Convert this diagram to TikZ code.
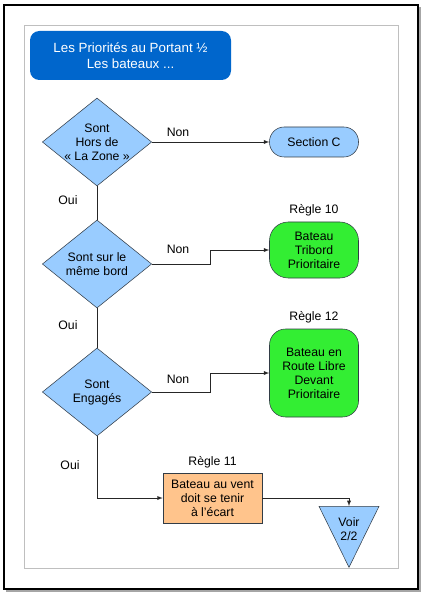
\documentclass[tikz,border=0pt]{standalone}
\usepackage{fontspec}
\setmainfont{Liberation Sans}
\usetikzlibrary{shapes.geometric, positioning, calc}

\definecolor{boxblue}{RGB}{153,204,255}
\definecolor{titleblue}{RGB}{0,102,204}
\definecolor{rulegreen}{RGB}{51,238,51}
\definecolor{ruleorange}{RGB}{255,196,140}
\definecolor{edgegray}{RGB}{50,60,70}

\begin{document}
\begin{tikzpicture}[x=0.75pt, y=-0.75pt, >=latex,
  font=\fontsize{9.2}{10.5}\selectfont,
  test/.style={diamond, aspect=1.24, draw=edgegray, fill=boxblue, align=center,
    inner sep=-4pt, minimum width=82pt, minimum height=66pt},
  rule/.style={draw=edgegray, fill=rulegreen, align=center, inner sep=0pt,
    minimum width=66.75pt},
  answer/.style={inner sep=1pt},
  line/.style={draw=black!85}]
  \useasboundingbox (0,0) rectangle (426,598);

  % page frame
  \fill[black!35] (6,7) rectangle (421,592);
  \draw[line width=1.4pt, fill=white] (4,5) rectangle (418,589);
  \draw[black!25] (24,25) rectangle (398,568);

  \node[fill=titleblue, rounded corners=7pt, text=white, align=center,
  minimum width=150.75pt, minimum height=36.75pt,
  font=\fontsize{10}{12}\selectfont] (title) at (130.5,55.5)
  {Les Priorités au Portant ½\\Les bateaux ...};

  \node[test] (d1) at (97,142) {Sont\\Hors de\\« La Zone »};
  \node[test] (d2) at (97,264) {Sont sur le\\même bord};
  \node[test] (d3) at (97,392) {Sont\\Engagés};

  \node[draw=edgegray, fill=boxblue, rounded corners=11pt,
  minimum width=66.75pt, minimum height=22.5pt] (secC) at (314,142) {Section C};

  \node[rule, rounded corners=14pt, minimum height=42pt] (r10) at (314,250)
  {Bateau\\Tribord\\Prioritaire};
  \node[rule, rounded corners=12pt, minimum height=66pt] (r12) at (314,373)
  {Bateau en\\Route Libre\\Devant\\Prioritaire};
  \node[draw=edgegray, fill=ruleorange, align=center, inner sep=0pt,
  minimum width=74.25pt, minimum height=37.5pt] (r11) at (212.5,498)
  {Bateau au vent\\doit se tenir\\à l'écart};

  \node[isosceles triangle, shape border rotate=270, isosceles triangle stretches,
  draw=edgegray, fill=boxblue, inner sep=0pt,
  minimum width=45pt, minimum height=45.75pt, anchor=apex] (next) at (349,568)
  {\raisebox{-5pt}[\height][\depth]{\begin{tabular}{@{}c@{}}Voir\\2/2\end{tabular}}};

  \node[above=1pt of r10] {Règle 10};
  \node[above=1pt of r12] {Règle 12};
  \node[above=0pt of r11] {Règle 11};

  % connectors
  \draw[line, ->] (d1.east) -- (secC.west);
  \draw[line, ->] (d2.east) -| ($(d2.east)!.5!(r10.west)$) |- (r10.west);
  \draw[line, ->] (d3.east) -| ($(d3.east)!.5!(r12.west)$) |- (r12.west);
  \draw[line] (d1.south) -- (d2.north);
  \draw[line] (d2.south) -- (d3.north);
  \draw[line, ->] (d3.south) |- (r11.west);
  \draw[line, ->] (r11.east) -| (next.north);

  \node[answer] (non1) at (178,132) {Non};
  \node[answer] (non2) at (178,249) {Non};
  \node[answer] (non3) at (178,379) {Non};
  \node[answer] (oui1) at (68,200) {Oui};
  \node[answer] (oui2) at (68,325) {Oui};
  \node[answer] (oui3) at (70,465) {Oui};
\end{tikzpicture}
\end{document}
